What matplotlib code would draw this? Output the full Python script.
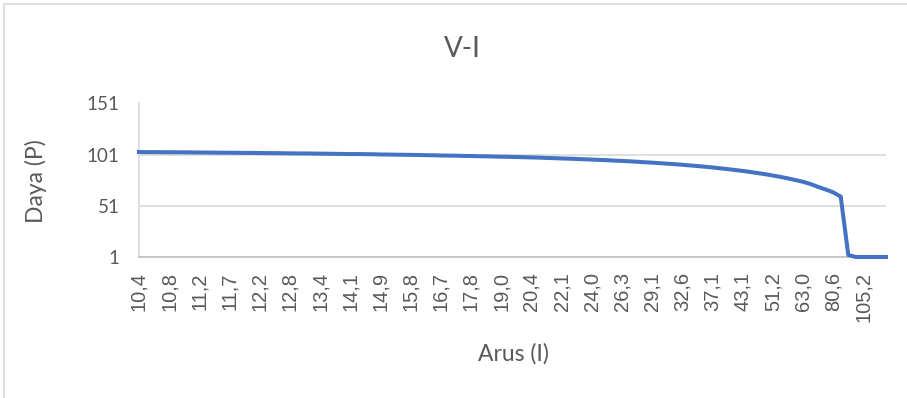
"""Excel-style V-I chart: power (Daya) against current (Arus) on a category axis."""

import matplotlib

matplotlib.use("Agg")
import matplotlib.pyplot as plt
from matplotlib.patches import Rectangle

# Category labels shown on the x axis (Excel shows every 4th category).
ARUS_LABELS = [
    "10,4", "10,8", "11,2", "11,7", "12,2", "12,8", "13,4", "14,1", "14,9",
    "15,8", "16,7", "17,8", "19,0", "20,4", "22,1", "24,0", "26,3", "29,1",
    "32,6", "37,1", "43,1", "51,2", "63,0", "80,6", "105,2",
]
LABEL_EVERY = 4

# Power per category (100 categories).
DAYA = [
    103.6, 103.5, 103.5, 103.4, 103.4, 103.3, 103.3, 103.2, 103.1, 103.1,
    103.0, 102.9, 102.9, 102.8, 102.7, 102.7, 102.6, 102.5, 102.5, 102.4,
    102.3, 102.2, 102.2, 102.1, 102.0, 101.9, 101.8, 101.7, 101.6, 101.6,
    101.5, 101.4, 101.2, 101.1, 101.0, 100.9, 100.8, 100.7, 100.5, 100.4,
    100.2, 100.1, 100.0, 99.8, 99.7, 99.5, 99.4, 99.2, 99.0, 98.9,
    98.7, 98.5, 98.3, 98.1, 97.8, 97.6, 97.3, 97.1, 96.8, 96.5,
    96.2, 95.9, 95.6, 95.2, 94.9, 94.5, 94.1, 93.6, 93.2, 92.7,
    92.2, 91.7, 91.1, 90.5, 89.9, 89.2, 88.5, 87.7, 86.9, 86.0,
    85.1, 84.1, 83.0, 81.9, 80.6, 79.3, 77.8, 76.2, 74.5, 72.3,
    69.5, 67.0, 64.2, 60.0, 3.0, 1.0, 1.0, 1.0, 1.0, 1.0,
]
Y_TICKS = [1, 51, 101, 151]

TEXT_GREY = "#595959"
GRID_GREY = "#D9D9D9"
LINE_BLUE = "#4472C4"
W, H = 907, 398


def main() -> None:
    fig = plt.figure(figsize=(W / 100, H / 100), dpi=100)
    # chart-area border, only the left and top edges are inside the picture
    fig.patches.append(
        Rectangle((4 / W, -0.2), 1.3, 1.2 - 4 / H, transform=fig.transFigure,
                  facecolor="none", edgecolor=GRID_GREY, linewidth=1.2)
    )
    ax = fig.add_axes([139 / W, 1 - 257 / H, (886 - 139) / W, (257 - 103.5) / H])

    x = list(range(len(DAYA)))
    ax.plot(x, DAYA, color=LINE_BLUE, linewidth=2.9, solid_joinstyle="round",
            zorder=3)

    ax.set_xlim(0, len(DAYA) - 1)
    ax.set_ylim(Y_TICKS[0], Y_TICKS[-1])
    ax.set_yticks(Y_TICKS)
    ax.set_yticklabels([str(t) for t in Y_TICKS], fontfamily="Lato", fontsize=13.5,
                       color=TEXT_GREY)
    ax.set_xticks([i * LABEL_EVERY for i in range(len(ARUS_LABELS))])
    ax.set_xticklabels(ARUS_LABELS, rotation=90, fontfamily="Liberation Sans",
                       fontsize=14.5, color=TEXT_GREY)
    ax.tick_params(axis="x", length=0, pad=11)
    ax.tick_params(axis="y", length=0, pad=14)

    ax.grid(axis="y", color=GRID_GREY, linewidth=1.2)
    ax.set_axisbelow(True)
    for side in ("top", "right"):
        ax.spines[side].set_visible(False)
    ax.spines["bottom"].set_color("#BFBFBF")
    ax.spines["bottom"].set_linewidth(1.2)
    ax.spines["left"].set_color(GRID_GREY)
    ax.spines["left"].set_linewidth(1.2)
    for line in ax.get_lines():
        line.set_clip_on(False)

    fig.text(462 / W, 1 - 49 / H, "V-I", ha="center", va="center",
             fontfamily="Lato", fontsize=20, color=TEXT_GREY)
    fig.text(513 / W, 1 - 354 / H, "Arus (I)", ha="center", va="center",
             fontfamily="Lato", fontsize=16.5, color=TEXT_GREY)
    fig.text(36 / W, 1 - 181 / H, "Daya (P)", ha="center", va="center",
             rotation=90, fontfamily="Lato", fontsize=16.5, color=TEXT_GREY)

    fig.savefig("out.png", dpi=100)
    plt.close(fig)


if __name__ == "__main__":
    main()
